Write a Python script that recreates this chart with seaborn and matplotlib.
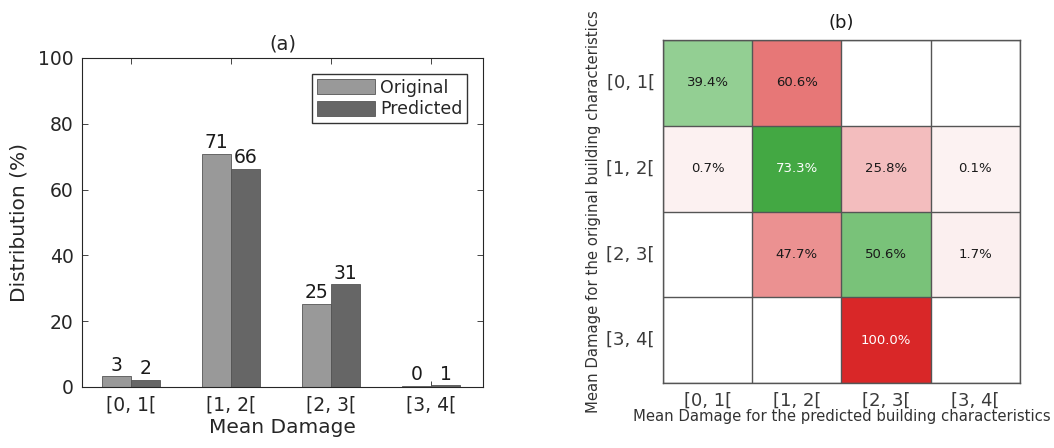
import numpy as np
import pandas as pd
import matplotlib
matplotlib.use("Agg")
import matplotlib.pyplot as plt
from matplotlib.colors import LinearSegmentedColormap
import seaborn as sns

# -----------------------------
# data
# -----------------------------
categories = ["[0, 1[", "[1, 2[", "[2, 3[", "[3, 4["]
original = [3.2, 70.9, 25.3, 0.4]
predicted = [2.2, 66.3, 31.2, 0.5]
original_labels = ["3", "71", "25", "0"]
predicted_labels = ["2", "66", "31", "1"]

# rows = original class, cols = predicted class (%)
transition = np.array([
    [39.4, 60.6, 0.0, 0.0],
    [0.7, 73.3, 25.8, 0.1],
    [0.0, 47.7, 50.6, 1.7],
    [0.0, 0.0, 100.0, 0.0],
])

sns.set_style("white")
plt.rcParams["font.family"] = ["DejaVu Sans"]

fig = plt.figure(figsize=(10.54, 4.48), dpi=100)

# -----------------------------
# (a) bar chart
# -----------------------------
ax1 = fig.add_axes([0.0778, 0.1362, 0.3805, 0.7344])
df = pd.DataFrame({
    "cat": categories * 2,
    "val": original + predicted,
    "series": ["Original"] * 4 + ["Predicted"] * 4,
})
sns.barplot(data=df, x="cat", y="val", hue="series", order=categories,
            hue_order=["Original", "Predicted"],
            palette=["#999999", "#666666"], saturation=1, width=0.58,
            edgecolor="#555555", linewidth=0.6, ax=ax1)

for cont, labs in zip(ax1.containers, [original_labels, predicted_labels]):
    ax1.bar_label(cont, labels=labs, padding=1, fontsize=13.5, color="#1a1a1a")

ax1.set_xlim(-0.49, 3.52)
ax1.set_ylim(0, 100)
ax1.set_yticks([0, 20, 40, 60, 80, 100])
ax1.set_xlabel("Mean Damage", fontsize=14.5, color="#262626", labelpad=3)
ax1.set_ylabel("Distribution (%)", fontsize=14.5, color="#262626", labelpad=7)
ax1.set_title("(a)", fontsize=14, color="#262626", pad=6)
ax1.tick_params(direction="in", top=True, right=True, bottom=True, left=True,
                length=4, width=0.6, labelsize=13.5, colors="#262626", pad=6)
for sp in ax1.spines.values():
    sp.set_visible(True)
    sp.set_color("#262626")
    sp.set_linewidth(0.8)

leg = ax1.legend(loc="upper right", fontsize=12.5, frameon=True, fancybox=False,
                 edgecolor="black", handlelength=3.3, handleheight=0.95,
                 borderpad=0.3, labelspacing=0.2, handletextpad=0.3,
                 borderaxespad=0.9)
leg.get_frame().set_linewidth(1.0)
for t in leg.get_texts():
    t.set_color("#262626")

# -----------------------------
# (b) transition heatmap
# -----------------------------
ax2 = fig.add_axes([0.629, 0.145, 0.3387, 0.7656])

reds = LinearSegmentedColormap.from_list("r", ["#fcf2f2", "#d92728"])
greens = LinearSegmentedColormap.from_list("g", ["#f0fcf0", "#048904"])

annot = np.where(transition > 0,
                 np.vectorize(lambda v: f"{v:.1f}%")(transition), "")
diag = np.eye(4, dtype=bool)
zero = transition == 0

mat = pd.DataFrame(transition, index=categories, columns=categories)
sns.heatmap(mat, mask=~diag | zero, cmap=greens, vmin=0, vmax=100,
            annot=annot, fmt="", cbar=False, square=False,
            annot_kws={"fontsize": 9.5}, ax=ax2)
sns.heatmap(mat, mask=diag | zero, cmap=reds, vmin=0, vmax=100,
            annot=annot, fmt="", cbar=False, square=False,
            annot_kws={"fontsize": 9.5}, ax=ax2)

# text colours: white on the strongest cells
for t in ax2.texts:
    s = t.get_text().rstrip("%")
    if s and float(s) > 70:
        t.set_color("white")
    else:
        t.set_color("#1a1a1a")

for i in range(5):
    ax2.axhline(i, color="#555555", lw=1.0)
    ax2.axvline(i, color="#555555", lw=1.0)
for sp in ax2.spines.values():
    sp.set_visible(True)
    sp.set_color("#555555")
    sp.set_linewidth(1.0)

ax2.set_yticklabels(categories, rotation=0)
ax2.tick_params(axis="both", length=2, color="#dddddd", labelsize=13,
                labelcolor="#3a3a3a", pad=4)
ax2.set_xlabel("Mean Damage for the predicted building characteristics",
               fontsize=10.7, color="#333333", labelpad=0)
ax2.set_ylabel("Mean Damage for the original building characteristics",
               fontsize=10.7, color="#333333", labelpad=4)
ax2.set_title("(b)", fontsize=13, color="#1a1a1a", pad=9)

fig.savefig("out.png", dpi=100)
